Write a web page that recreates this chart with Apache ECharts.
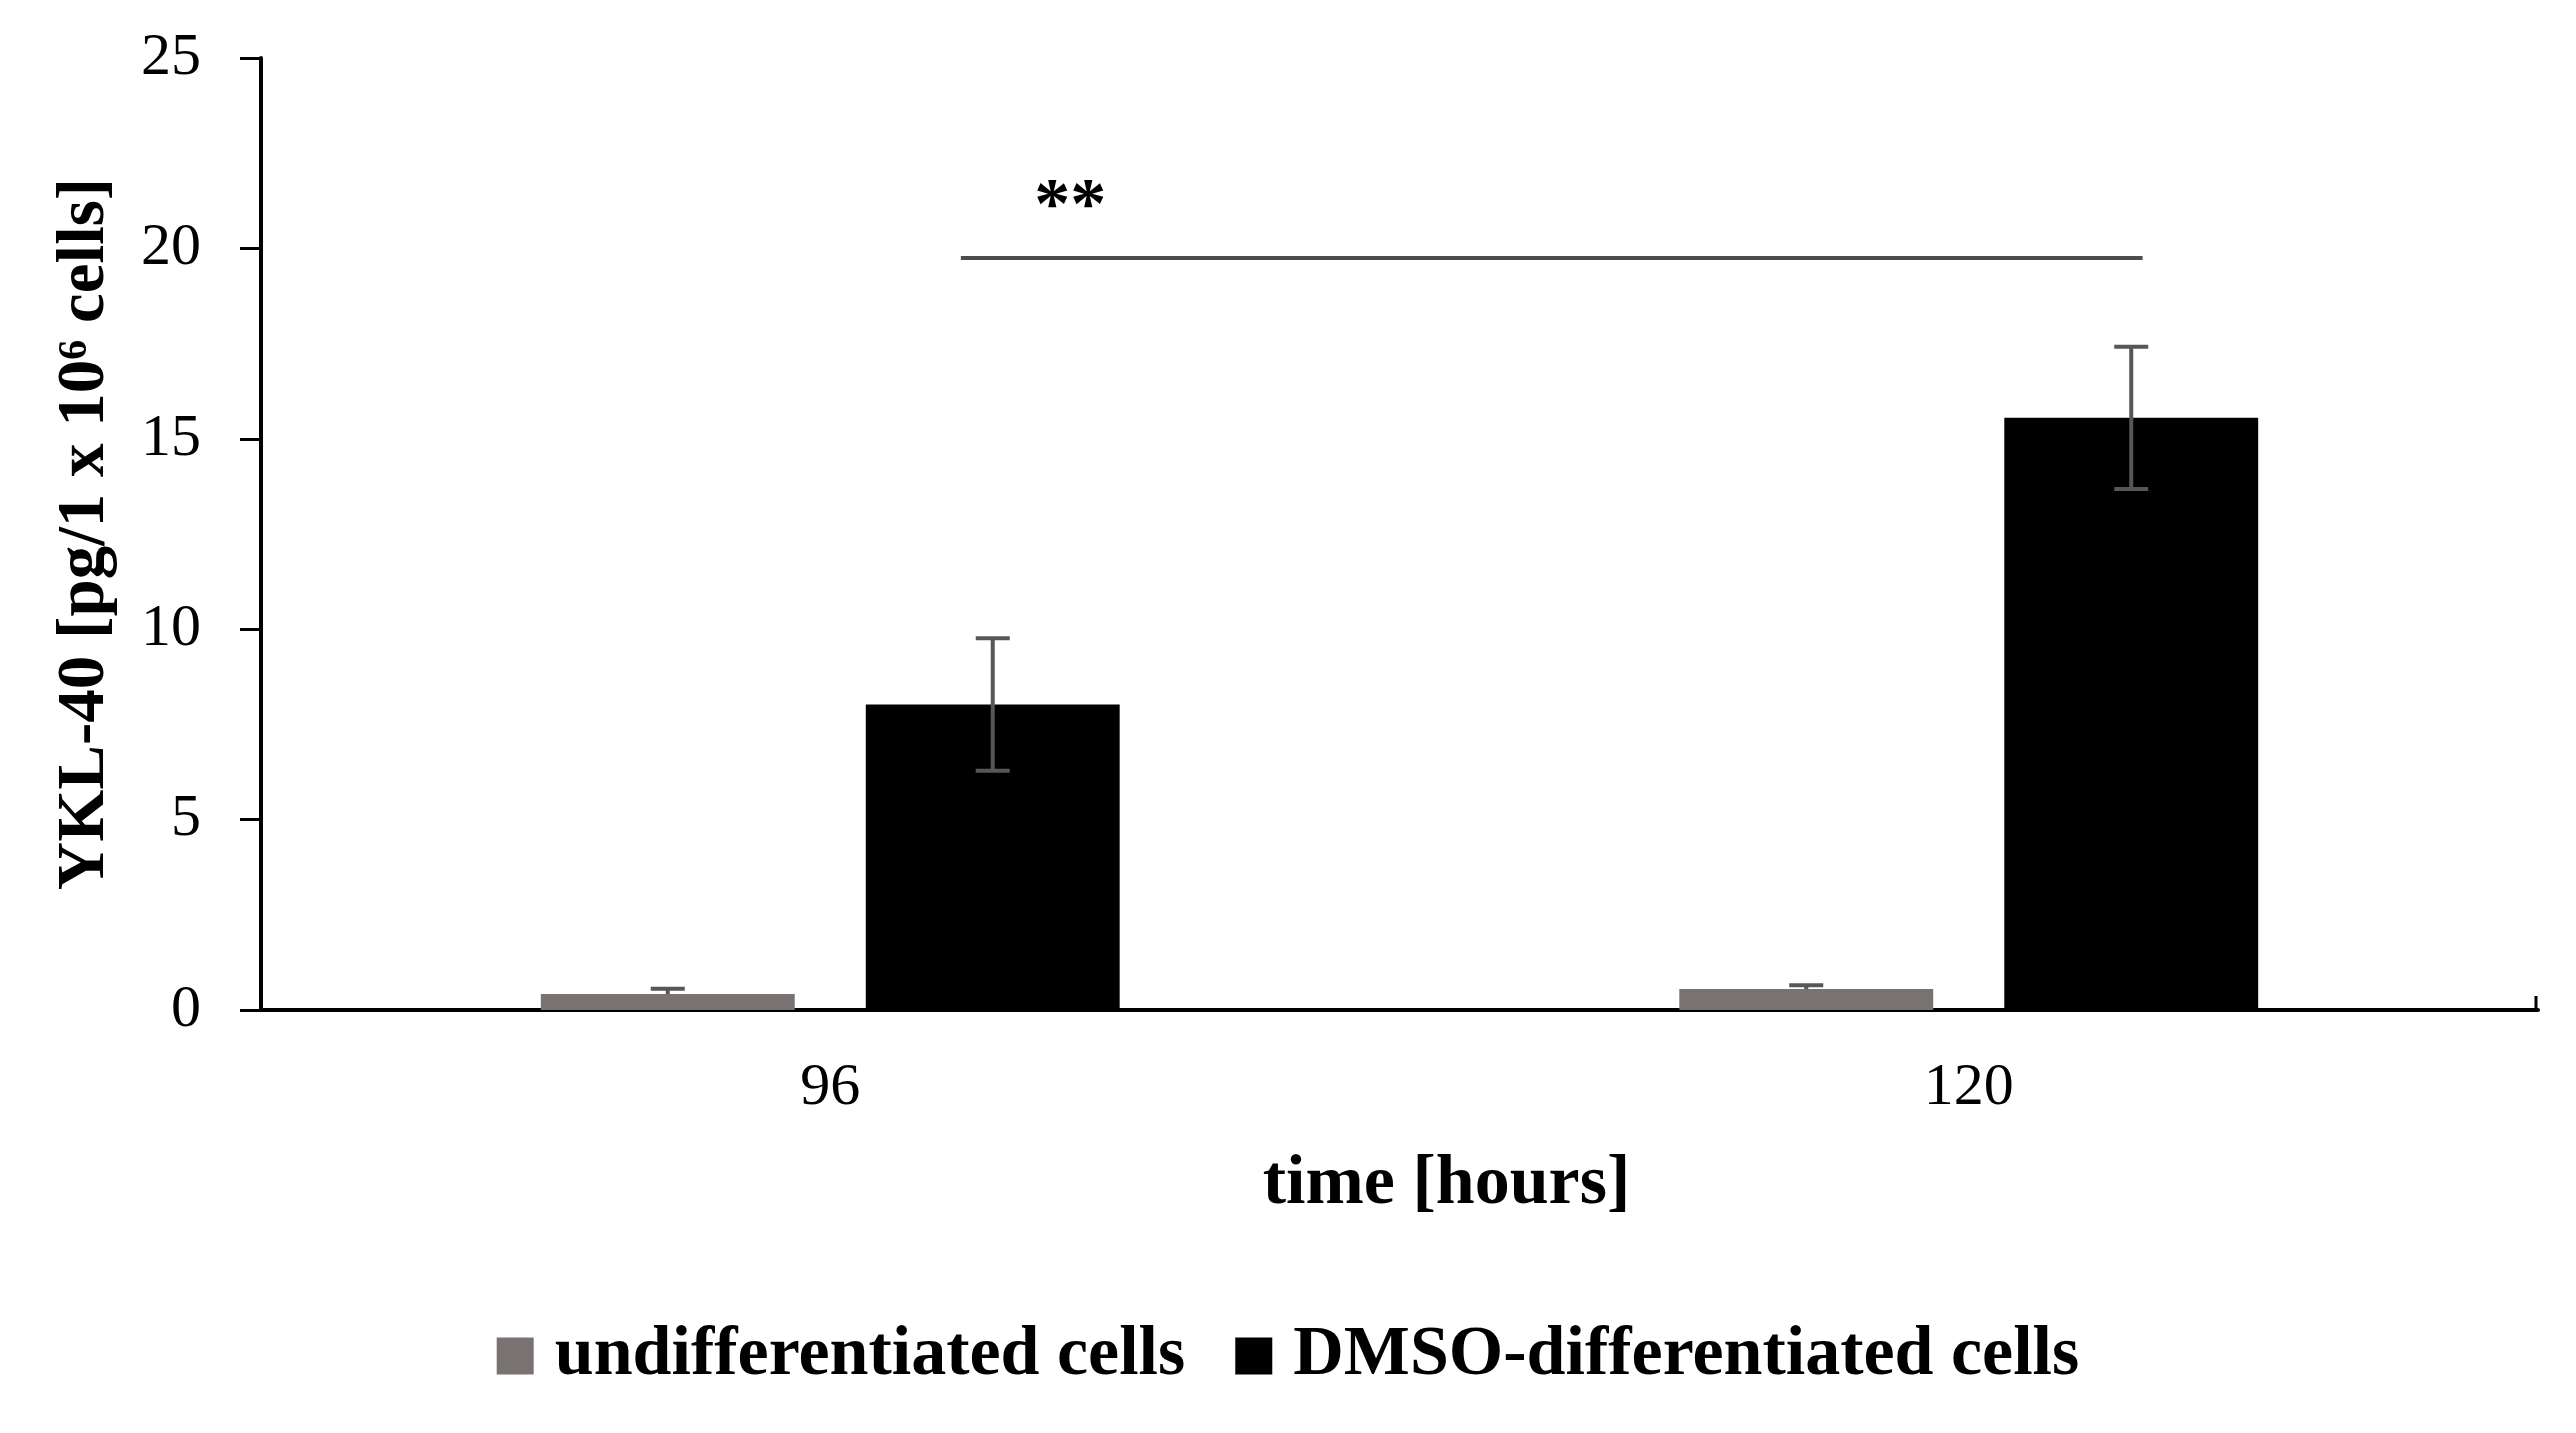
<!DOCTYPE html>
<html>
<head>
  <meta charset="utf-8">
  <style>
    body { margin: 0; background: #fff; }
    #container { width: 2576px; height: 1433px; }
  </style>
</head>
<body>
  <div id="container"></div>
  <script src="https://cdn.jsdelivr.net/npm/echarts@6/dist/echarts.min.js"></script>
  <script>
    // data
    var hours = ['96', '120'];
    var undiffMean = [0.42, 0.55];
    var undiffErr = [0.14, 0.1];
    var dmsoMean = [8.02, 15.55];
    var dmsoErr = [1.74, 1.87];
    var yTicks = [0, 5, 10, 15, 20, 25];
    // significance: from category 0 to 1, height, label
    var sigFrom = 0, sigTo = 1, sigY = 19.75, sigStarY = 21.05, sigLabel = '**';

    var font = 'Liberation Serif';
    var barW = 0.223, barGap = 0.28;
    // centre offsets of the two bars inside a band
    var groupW = 2 * barW + barGap * barW;
    var offGray = -groupW / 2 + barW / 2;
    var offBlack = groupW / 2 - barW / 2;

    function errRender(offset) {
      return function (params, api) {
        var band = api.size([1, 0])[0];
        var lo = api.coord([api.value(0), api.value(1)]);
        var hi = api.coord([api.value(0), api.value(2)]);
        var cx = lo[0] + offset * band;
        var cap = 17;
        var st = { stroke: '#575757', lineWidth: 4 };
        return {
          type: 'group',
          children: [
            { type: 'line', shape: { x1: cx, y1: lo[1], x2: cx, y2: hi[1] }, style: st },
            { type: 'line', shape: { x1: cx - cap, y1: lo[1], x2: cx + cap, y2: lo[1] }, style: st },
            { type: 'line', shape: { x1: cx - cap, y1: hi[1], x2: cx + cap, y2: hi[1] }, style: st }
          ]
        };
      };
    }

    function errData(mean, err) {
      return mean.map(function (m, i) { return [i, m - err[i], m + err[i]]; });
    }

    var myChart = echarts.init(document.getElementById('container'));

    var option = {
      animation: false,
      grid: { left: 261, right: 38, top: 58, bottom: 423 },
      legend: {
        data: ['undifferentiated cells', 'DMSO-differentiated cells'],
        left: 'center',
        top: 1316,
        icon: 'rect',
        itemWidth: 37,
        itemHeight: 37,
        itemGap: 50,
        textStyle: { fontFamily: font, fontWeight: 'bold', fontSize: 70, color: '#000', padding: [0, 0, 0, 16] }
      },
      xAxis: {
        type: 'category',
        data: hours,
        name: 'time [hours]',
        nameLocation: 'middle',
        nameGap: 140,
        nameTextStyle: { fontFamily: font, fontWeight: 'bold', fontSize: 70, color: '#000', padding: [0, 0, 0, 94] },
        axisLine: { lineStyle: { color: '#000', width: 4 } },
        axisTick: { inside: true, alignWithLabel: true, length: 14, lineStyle: { color: '#000', width: 3 } },
        axisLabel: { fontFamily: font, fontSize: 60, color: '#000', margin: 48 }
      },
      yAxis: {
        type: 'value',
        min: yTicks[0],
        max: yTicks[yTicks.length - 1],
        interval: yTicks[1] - yTicks[0],
        name: 'YKL-40 [pg/1 x 10⁶ cells]',
        nameLocation: 'middle',
        nameGap: 142,
        nameTextStyle: { fontFamily: font, fontWeight: 'bold', fontSize: 67, color: '#000' },
        axisLine: { show: true, lineStyle: { color: '#000', width: 4 } },
        axisTick: { show: true, length: 21, lineStyle: { color: '#000', width: 3 } },
        axisLabel: { fontFamily: font, fontSize: 60, color: '#000', margin: 60 },
        splitLine: { show: false }
      },
      series: [
        {
          type: 'custom',
          name: 'err-undiff',
          z: 1,
          renderItem: errRender(offGray),
          data: errData(undiffMean, undiffErr)
        },
        {
          type: 'bar',
          name: 'undifferentiated cells',
          z: 2,
          data: undiffMean,
          barWidth: (barW * 100) + '%',
          barGap: (barGap * 100) + '%',
          itemStyle: { color: '#787272' }
        },
        {
          type: 'bar',
          name: 'DMSO-differentiated cells',
          z: 2,
          data: dmsoMean,
          barWidth: (barW * 100) + '%',
          barGap: (barGap * 100) + '%',
          itemStyle: { color: '#000' }
        },
        {
          type: 'custom',
          name: 'err-dmso',
          z: 3,
          renderItem: errRender(offBlack),
          data: errData(dmsoMean, dmsoErr)
        },
        {
          // tick at the right end of the category axis
          type: 'custom',
          name: 'axis-end',
          z: 3,
          renderItem: function (params, api) {
            var band = api.size([1, 0])[0];
            var p = api.coord([api.value(0), 0]);
            var x = p[0] + band / 2 - 2;
            return {
              type: 'line',
              shape: { x1: x, y1: p[1], x2: x, y2: p[1] - 14 },
              style: { stroke: '#000', lineWidth: 3 }
            };
          },
          data: [[hours.length - 1]]
        },
        {
          type: 'custom',
          name: 'sig',
          z: 3,
          renderItem: function (params, api) {
            var band = api.size([1, 0])[0];
            var a = api.coord([api.value(0), api.value(2)]);
            var b = api.coord([api.value(1), api.value(2)]);
            var s = api.coord([api.value(0), api.value(3)]);
            return {
              type: 'group',
              children: [
                {
                  type: 'line',
                  shape: { x1: a[0] + (offBlack - 0.028) * band, y1: a[1], x2: b[0] + (offBlack + 0.01) * band, y2: b[1] },
                  style: { stroke: '#4d4d4d', lineWidth: 4 }
                },
                {
                  type: 'text',
                  x: s[0] + (offBlack + 0.068) * band,
                  y: s[1],
                  style: {
                    text: sigLabel, fill: '#000', align: 'center', verticalAlign: 'middle',
                    font: 'bold 72px "' + font + '"'
                  }
                }
              ]
            };
          },
          data: [[sigFrom, sigTo, sigY, sigStarY]]
        }
      ]
    };

    myChart.setOption(option);
    window.addEventListener('resize', myChart.resize);
  </script>
</body>
</html>
